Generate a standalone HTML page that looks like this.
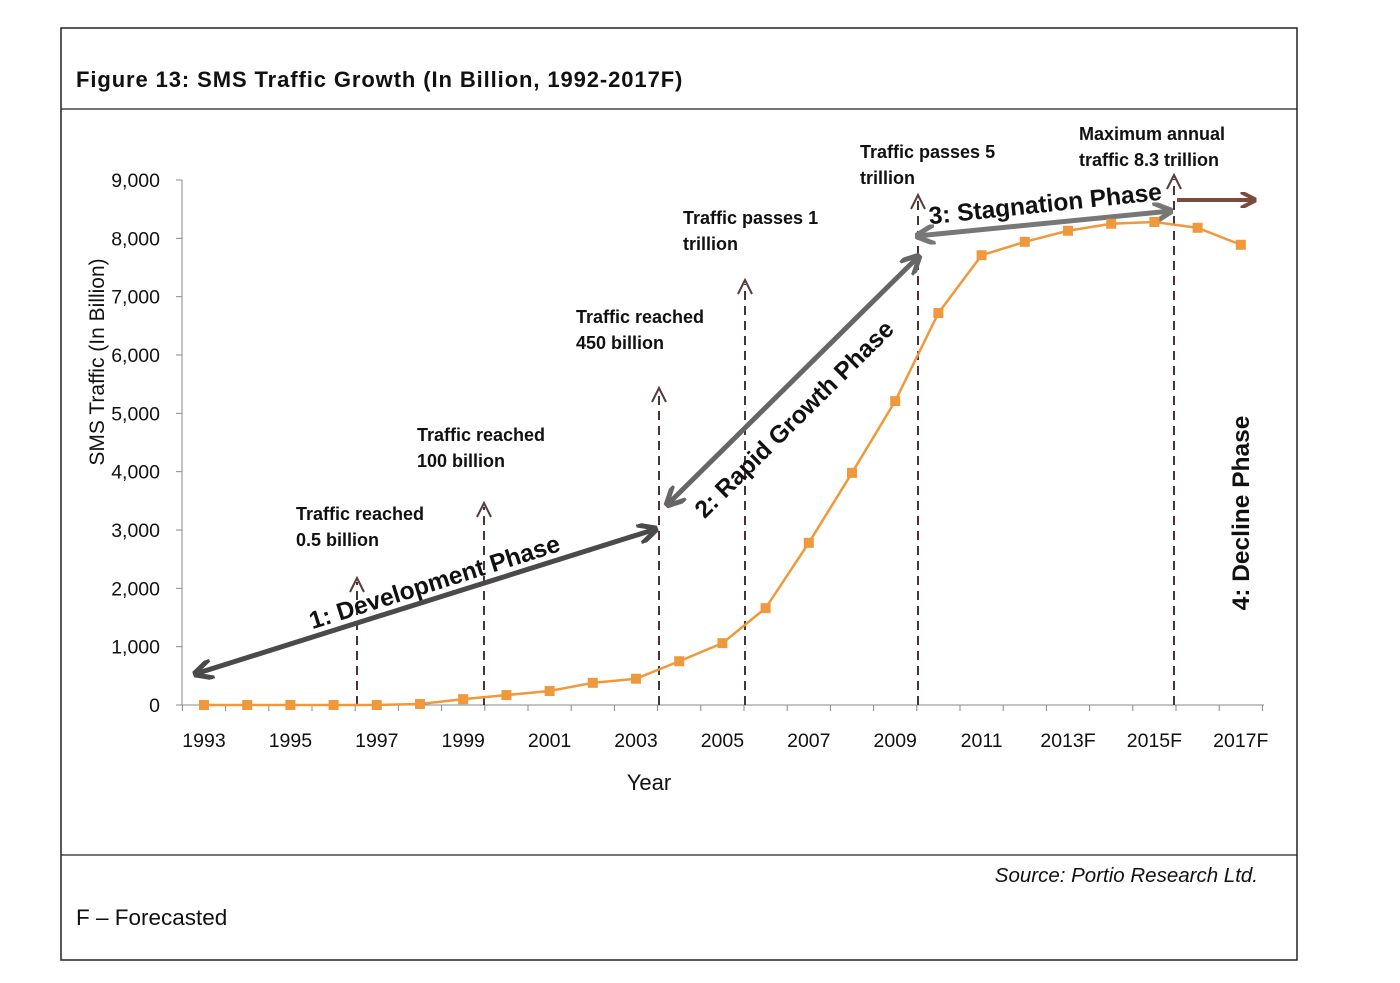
<!DOCTYPE html>
<html><head><meta charset="utf-8"><style>
body{margin:0;background:#fff;}
svg{display:block;font-family:"Liberation Sans",sans-serif;}
</style></head><body>
<svg width="1400" height="983" viewBox="0 0 1400 983">
<defs>
<marker id="ah" viewBox="0 0 10 10" refX="9" refY="5" markerWidth="4" markerHeight="4" orient="auto-start-reverse"><path d="M0,0 L10,5 L0,10" fill="none" stroke="context-stroke" stroke-width="2.5"/></marker>
</defs>
<rect x="61" y="28" width="1236" height="932" fill="none" stroke="#222" stroke-width="1.5"/>
<line x1="61" y1="109" x2="1297" y2="109" stroke="#222" stroke-width="1.2"/>
<line x1="61" y1="855" x2="1297" y2="855" stroke="#222" stroke-width="1.2"/>
<text x="76" y="87" font-size="22" font-weight="bold" letter-spacing="0.9" fill="#111">Figure 13:  SMS Traffic Growth (In Billion, 1992-2017F)</text>
<text x="1258" y="882" font-size="20.5" font-style="italic" text-anchor="end" fill="#111">Source: Portio Research Ltd.</text>
<text x="76" y="925" font-size="22.5" fill="#111">F – Forecasted</text>
<g id="axes"></g>
<g id="annot"></g>
<g id="series"></g>
</svg>
<script>
const categories=["1993","1994","1995","1996","1997","1998","1999","2000","2001","2002","2003","2004","2005","2006","2007","2008","2009","2010","2011","2012","2013F","2014F","2015F","2016F","2017F"];
const traffic=[0,0,0,0,0,17,100,170,240,380,450,750,1060,1660,2780,3980,5210,6720,7710,7940,8130,8250,8280,8180,7890];
const yTicks=[0,1000,2000,3000,4000,5000,6000,7000,8000,9000];
const xLabelIdx=[0,2,4,6,8,10,12,14,16,18,20,22,24];
const NS="http://www.w3.org/2000/svg";
const X0=204,DX=43.2,Y0=705,YK=525/9000;
const xs=i=>X0+i*DX, ys=v=>Y0-v*YK;
function mk(t,a,p){const e=document.createElementNS(NS,t);for(const k in a)e.setAttribute(k,a[k]);p.appendChild(e);return e;}
const ax=document.getElementById('axes');
mk('line',{x1:182,y1:180,x2:182,y2:705,stroke:'#888'},ax);
mk('line',{x1:182,y1:705,x2:1264,y2:705,stroke:'#888'},ax);
yTicks.forEach(v=>{
  mk('line',{x1:176,y1:ys(v),x2:182,y2:ys(v),stroke:'#888'},ax);
  const t=mk('text',{x:160,y:ys(v)+7,'font-size':19.5,'text-anchor':'end',fill:'#111'},ax);
  
  
  t.textContent=v.toLocaleString('en-US');
});
for(let i=0;i<=categories.length;i++){mk('line',{x1:xs(i)-DX/2,y1:705,x2:xs(i)-DX/2,y2:711,stroke:'#888'},ax);}
xLabelIdx.forEach(i=>{
  const t=mk('text',{x:xs(i),y:747,'font-size':19.5,'text-anchor':'middle',fill:'#111'},ax);
  
  
  t.textContent=categories[i];
});
let t=mk('text',{x:649,y:790,'font-size':22,'text-anchor':'middle',fill:'#111'},ax);


t.textContent='Year';
t=mk('text',{x:0,y:0,'font-size':21,'text-anchor':'middle',fill:'#111',transform:'translate(104,362) rotate(-90)'},ax);


t.textContent='SMS Traffic (In Billion)';

const an=document.getElementById('annot');
const vlines=[[357,578],[484,503],[659,388],[745,280],[918,195],[1174,175]];
vlines.forEach(([x,y])=>{
  mk('line',{x1:x,y1:705,x2:x,y2:y+4,stroke:'#4a3333','stroke-width':2,'stroke-dasharray':'9,6'},an);
  mk('path',{d:`M${x-7},${y+14} L${x},${y} L${x+7},${y+14}`,fill:'none',stroke:'#5a3a3a','stroke-width':2},an);
});
const labels=[[296,520,'Traffic reached','0.5 billion'],[417,441,'Traffic reached','100 billion'],[576,323,'Traffic reached','450 billion'],[683,224,'Traffic passes 1','trillion'],[860,158,'Traffic passes 5','trillion'],[1079,140,'Maximum annual','traffic 8.3 trillion']];
labels.forEach(([x,y,a,b])=>{
  const e=mk('text',{x:x,y:y,'font-size':18,'font-weight':'bold',fill:'#111'},an);
  
  
  mk('tspan',{x:x},e).textContent=a;
  mk('tspan',{x:x,dy:26},e).textContent=b;
});
const arrows=[[195,674,656,529,'#4a4a4a'],[667,505,919,256,'#666'],[917,236,1171,211,'#777']];
arrows.forEach(([a,b,c,d,col])=>{
  mk('line',{x1:a,y1:b,x2:c,y2:d,stroke:col,'stroke-width':5,'marker-start':'url(#ah)','marker-end':'url(#ah)'},an);
});
mk('line',{x1:1177,y1:200,x2:1255,y2:200,stroke:'#7a4a3a','stroke-width':4,'marker-end':'url(#ah)'},an);
const phases=[[437,590,-17.5,'1: Development Phase',24.5],[800,425,-44.7,'2: Rapid Growth Phase',24.5],[1046,212,-6,'3: Stagnation Phase',24.5],[1249,513,-90,'4: Decline Phase',24.5]];
phases.forEach(([x,y,r,s,f])=>{
  const e=mk('text',{x:0,y:0,'font-size':f,'font-weight':'bold','text-anchor':'middle',fill:'#111',transform:`translate(${x},${y}) rotate(${r})`},an);
  
  
  e.textContent=s;
});

const sg=document.getElementById('series');
const pl=mk('polyline',{points:traffic.map((v,i)=>xs(i)+','+ys(v)).join(' '),fill:'none',stroke:'#f0993c','stroke-width':2.5},sg);


traffic.forEach((v,i)=>{
  const r=mk('rect',{x:xs(i)-5,y:ys(v)-5,width:10,height:10,fill:'#f0993c'},sg);
  
  
});
</script>
</body></html>
